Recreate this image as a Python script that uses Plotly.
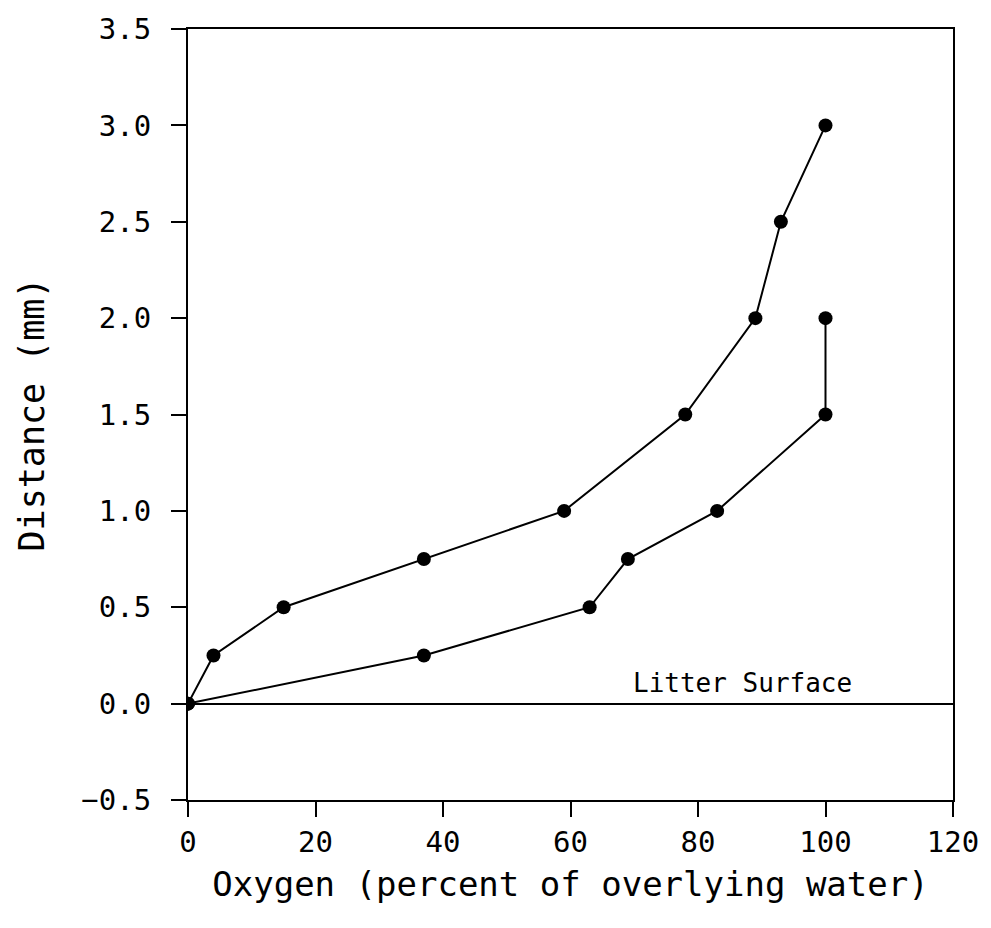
import plotly.graph_objects as go

upper_oxygen = [0, 4, 15, 37, 59, 78, 89, 93, 100]
upper_distance = [0, 0.25, 0.5, 0.75, 1.0, 1.5, 2.0, 2.5, 3.0]
lower_oxygen = [0, 37, 63, 69, 83, 100, 100]
lower_distance = [0, 0.25, 0.5, 0.75, 1.0, 1.5, 2.0]

x_ticks = [0, 20, 40, 60, 80, 100, 120]
y_ticks = [-0.5, 0.0, 0.5, 1.0, 1.5, 2.0, 2.5, 3.0, 3.5]
y_ticklabels = ["\u22120.5", "0.0", "0.5", "1.0", "1.5", "2.0", "2.5", "3.0", "3.5"]

FONT = "DejaVu Sans Mono"
W, H = 991, 928
ML, MR, MT, MB = 188, 33, 28, 128
TICK_LEN = 15

fig = go.Figure()
for xs, ys in [(upper_oxygen, upper_distance), (lower_oxygen, lower_distance)]:
    fig.add_trace(go.Scatter(x=xs, y=ys, mode="lines+markers",
                             line=dict(color="black", width=2),
                             marker=dict(color="black", size=14),
                             showlegend=False, hoverinfo="skip"))

fig.update_layout(
    width=W, height=H,
    margin=dict(l=ML, r=MR, t=MT, b=MB),
    plot_bgcolor="white", paper_bgcolor="white",
    font=dict(family=FONT, size=29, color="black"),
    xaxis=dict(range=[0, 120], tickvals=x_ticks, ticks="outside", ticklen=TICK_LEN,
               tickwidth=2, tickcolor="black", showline=True, linewidth=2,
               linecolor="black", mirror=True, showgrid=False, zeroline=False,
               tickfont=dict(size=29),
               title=dict(text="Oxygen (percent of overlying water)", font=dict(size=34), standoff=14)),
    yaxis=dict(range=[-0.5, 3.5], tickvals=y_ticks, ticktext=y_ticklabels,
               ticks="outside", ticklen=TICK_LEN, tickwidth=2, tickcolor="black",
               showline=True, linewidth=2, linecolor="black", mirror=True,
               showgrid=False, zeroline=True, zerolinecolor="black", zerolinewidth=2,
               tickfont=dict(size=29), ticklabelstandoff=14,
               title=dict(text="Distance (mm)", font=dict(size=35), standoff=26)),
    annotations=[dict(x=87, y=0, xref="x", yref="y", text="Litter Surface",
                      showarrow=False, yanchor="bottom", yshift=4,
                      font=dict(size=26, family=FONT))],
)
fig.write_html("out.html")
